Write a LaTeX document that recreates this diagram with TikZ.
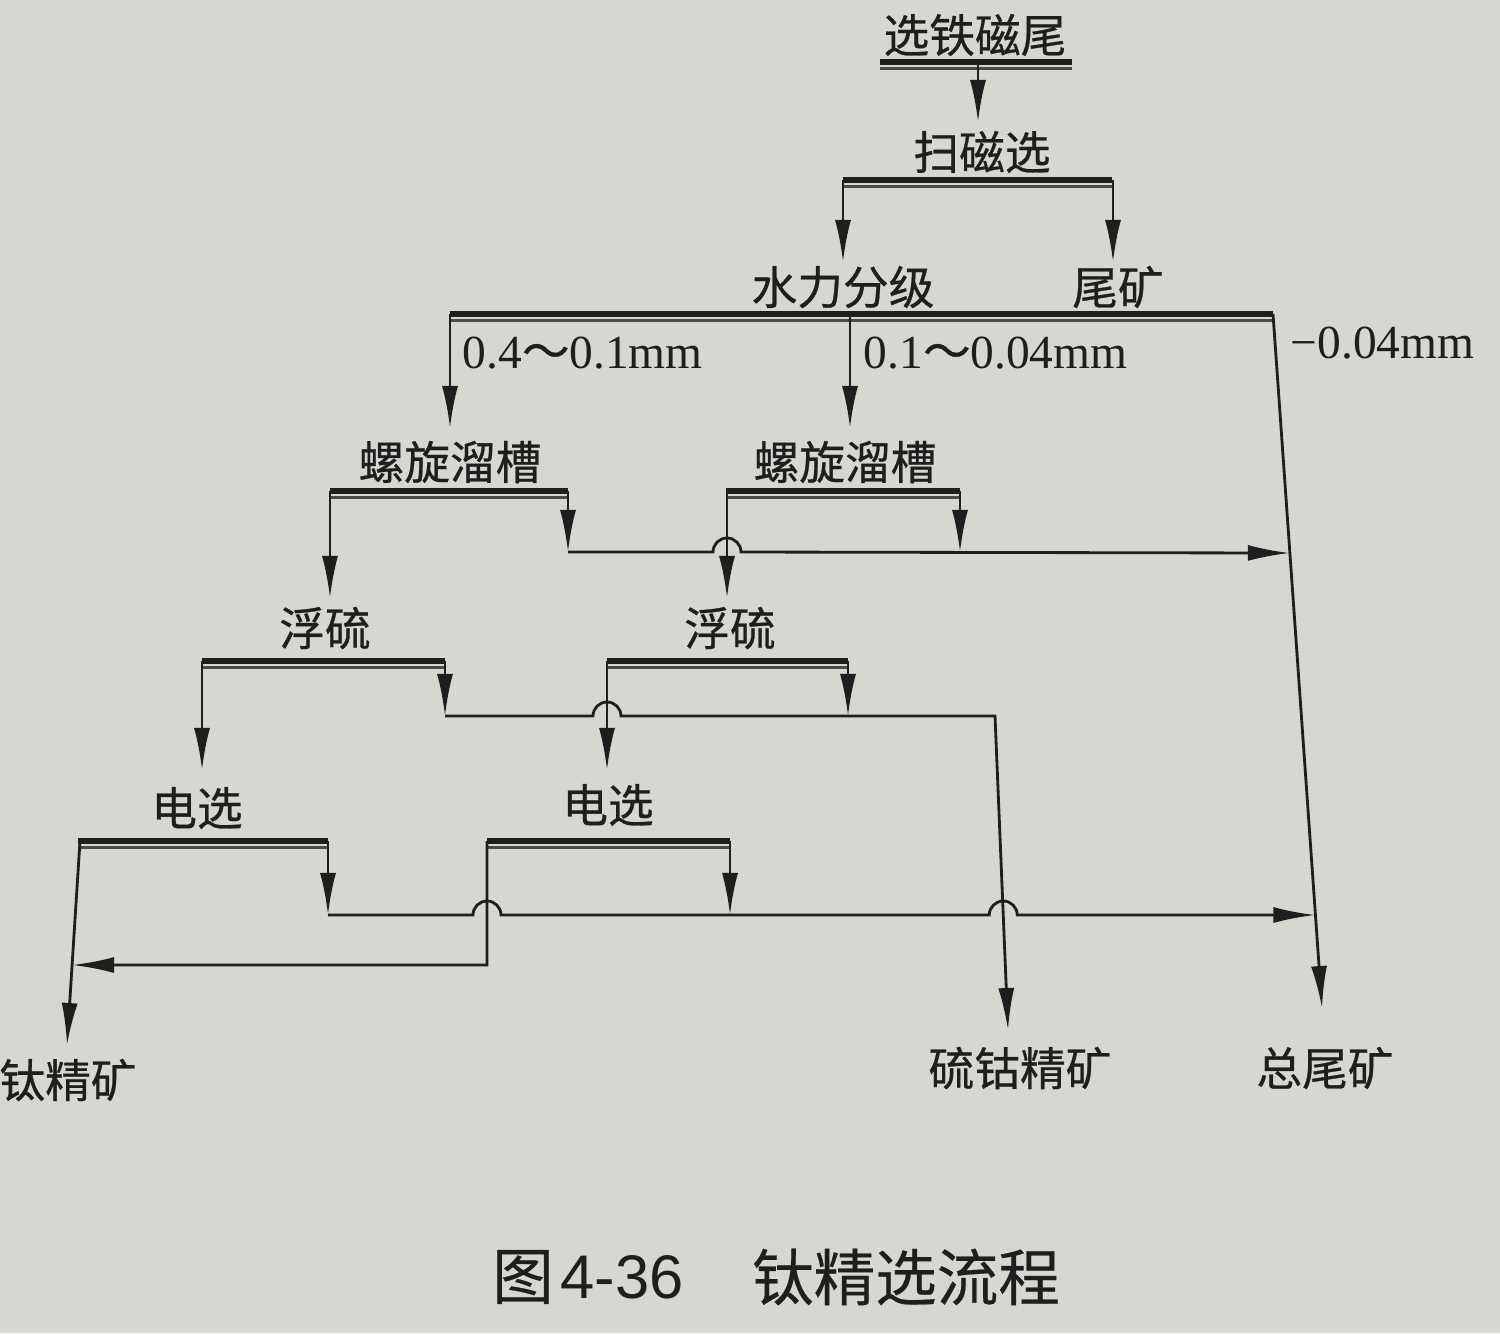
\documentclass[tikz,border=0pt]{standalone}
\usepackage{fontspec}
\setmainfont{Liberation Serif}
\newfontfamily\cjk[FakeBold=0.6]{Noto Sans CJK SC}
\newfontfamily\cjkcap[FakeBold=0.4]{Noto Sans CJK SC}
\newfontfamily\capsans{Liberation Sans}
\usetikzlibrary{arrows.meta,calc}
\definecolor{paper}{HTML}{D7D7D2}
\definecolor{ink}{HTML}{1E1E1E}
\newcommand\opbar[3]{\draw[barA] (#1,#3) -- (#2,#3); \draw[barB] (#1,#3+6.5) -- (#2,#3+6.5);}
\begin{document}
\begin{tikzpicture}[x=0.01cm,y=-0.01cm,
  lbl/.style={font=\cjk\fontsize{13}{13}\selectfont, text=ink, inner sep=0pt},
  num/.style={font=\fontsize{13.5}{13.5}\selectfont, text=ink, inner sep=0pt, anchor=west},
  captxt/.style={font=\cjkcap\fontsize{17.5}{17.5}\selectfont, text=ink, inner sep=0pt},
  flow/.style={draw=ink, line width=0.8pt, -{Latex[length=4.2mm,width=1.6mm]}},
  barA/.style={draw=ink, line width=1.7pt},
  barB/.style={draw=ink!80, line width=0.9pt},
]
\fill[paper] (0,0) rectangle (1500,1333);
\useasboundingbox (0,0) rectangle (1500,1333);

% ---- text nodes ----
\node[lbl] (feed) at (975,35) {选铁磁尾};
\node[lbl] (scav) at (982,152) {扫磁选};
\node[lbl] (hyd) at (843,287) {水力分级};
\node[lbl] (tail1) at (1118,287) {尾矿};
\node[lbl] (spL) at (450,462) {螺旋溜槽};
\node[lbl] (spR) at (845,462) {螺旋溜槽};
\node[lbl] (flL) at (325,628) {浮硫};
\node[lbl] (flR) at (730,628) {浮硫};
\node[lbl] (elL) at (197,808) {电选};
\node[lbl] (elR) at (608,805) {电选};
\node[lbl] (ticon) at (68,1080) {钛精矿};
\node[lbl] (scon) at (1020,1068) {硫钴精矿};
\node[lbl] (ttail) at (1325,1068) {总尾矿};

\node[num] (s1) at (462,353) {0.4{\cjk ～}0.1mm};
\node[num] (s2) at (863,353) {0.1{\cjk ～}0.04mm};
\node[num] (s3) at (1290,343) {−0.04mm};

\node[captxt] (capA) at (523,1277) {图};
\node[captxt, font=\capsans\fontsize{17.5}{17.5}\selectfont] (capB) at (622,1277) {4-36};
\node[captxt] (capC) at (906,1277) {钛精选流程};

% ---- operation bars ----
\opbar{880}{1072}{62}
\opbar{843}{1112}{180}
\opbar{450}{1273}{314}
\opbar{330}{568}{491}
\opbar{726}{960}{491}
\opbar{202}{445}{661}
\opbar{607}{848}{661}
\opbar{78}{328}{841}
\opbar{487}{730}{841}

% ---- key coordinates ----
\coordinate (rt) at (1273,314);
\coordinate (rb) at (1322,1008);
\coordinate (j1) at ($(rt)!0.3444!(rb)$);
\coordinate (j2) at ($(rt)!0.8660!(rb)$);
\coordinate (st) at (995,716);
\coordinate (sb) at (1008,1030);
\coordinate (sh) at ($(st)!0.6338!(sb)$);
\coordinate (tt) at (80,841);
\coordinate (tb) at (67,1045);
\coordinate (tj) at ($(tt)!0.6078!(tb)$);

% ---- flows ----
\draw[flow] (978,62) -- (978,122);
\draw[flow] (843,180) -- (843,262);
\draw[flow] (1113,180) -- (1113,262);
\draw[flow] (450,314) -- (450,428);
\draw[flow] (850,314) -- (850,428);
\draw[flow] (rt) -- (rb);

% spirals
\draw[flow] (330,491) -- (330,598);
\draw[flow] (568,491) -- (568,552);
\draw[flow] (727,491) -- (727,598);
\draw[flow] (960,491) -- (960,552);
\draw[flow] (568,552) -- (713,552) arc[start angle=180, end angle=360, radius=14] -- (j1);

% flotation
\draw[flow] (202,661) -- (202,770);
\draw[flow] (445,661) -- (445,716);
\draw[flow] (607,661) -- (607,770);
\draw[flow] (848,661) -- (848,716);
\draw[flow] (445,716) -- (593,716) arc[start angle=180, end angle=360, radius=14] -- (st) -- (sb);

% electrostatic
\draw[flow] (tt) -- (tb);
\draw[flow] (328,841) -- (328,915);
\draw[flow] (730,841) -- (730,915);
\draw[flow] (487,841) -- (487,965) -- (tj);
\draw[flow] (328,915) -- (473,915) arc[start angle=180, end angle=360, radius=14]
  -- ($(sh)+(-14,0)$) arc[start angle=180, end angle=360, radius=14] -- (j2);
\end{tikzpicture}
\end{document}
